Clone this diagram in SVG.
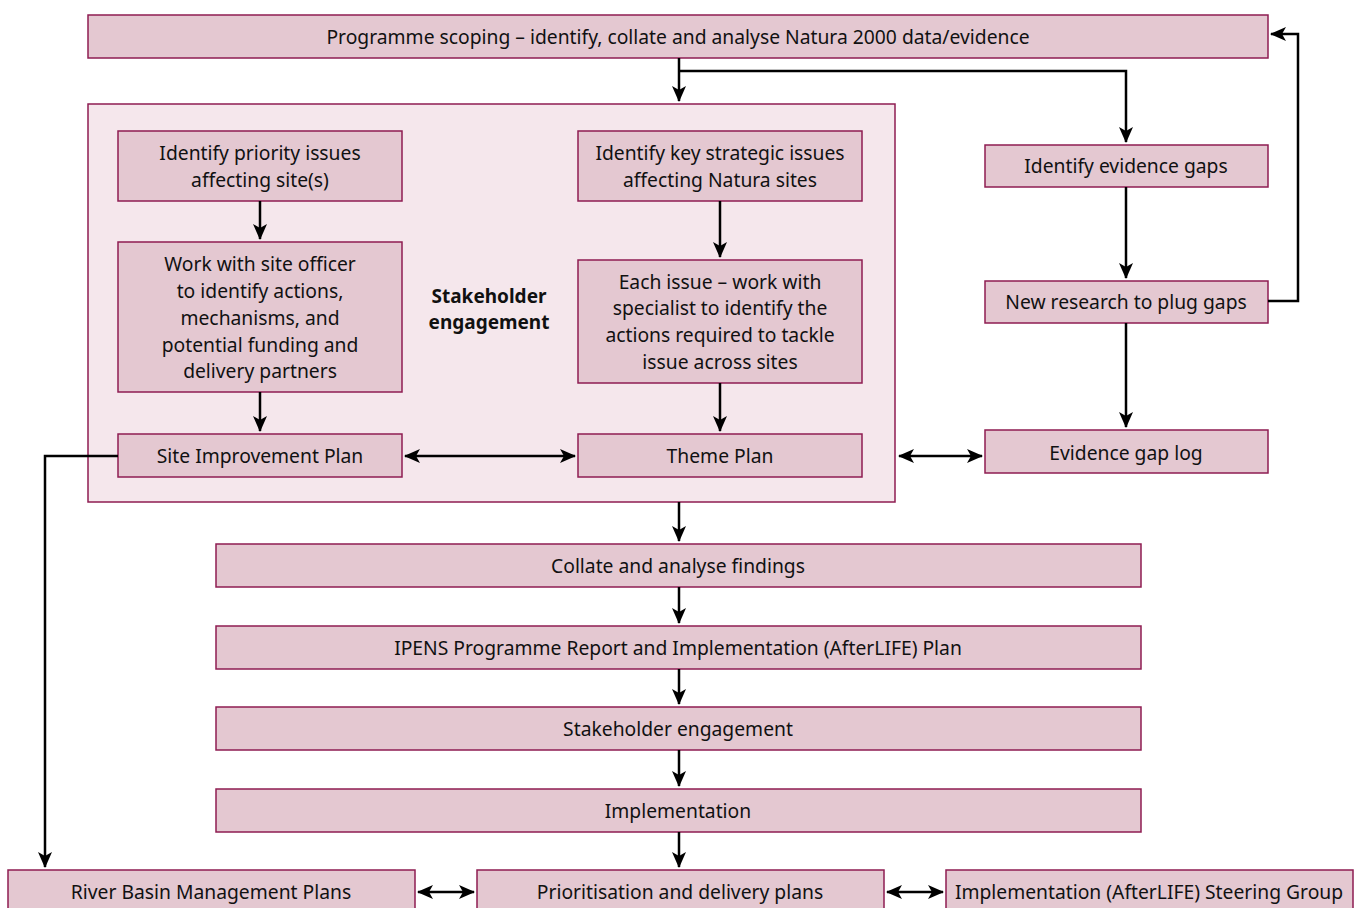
<svg xmlns="http://www.w3.org/2000/svg" width="1359" height="908" viewBox="0 0 1359 908">
<style>
.b{fill:#e4c8d1;stroke:#8e1d52;stroke-width:1.5}
.c{fill:#f5e7ec;stroke:#8e1d52;stroke-width:1.5}
text{font-family:"Noto Sans","Open Sans",sans-serif;font-size:19.3px;fill:#111;text-anchor:middle}
.bold{font-weight:bold;font-size:19px}
.l{fill:none;stroke:#000;stroke-width:2.5}
</style>
<defs>
<marker id="a" markerUnits="userSpaceOnUse" markerWidth="16" markerHeight="14" viewBox="0 0 16 14" refX="15" refY="7" orient="auto-start-reverse">
<path d="M0,0 L16,7 L0,14 L4,7 z" fill="#000"/>
</marker>
</defs>
<rect width="1359" height="908" fill="#fff"/>
<g id="container"><rect class="c" x="88" y="104" width="807" height="398"/>
<text class="bold" x="489" y="303">Stakeholder</text><text class="bold" x="489" y="329">engagement</text></g>
<g id="scoping"><rect class="b" x="88" y="15" width="1180" height="43"/><text x="678" y="44">Programme scoping – identify, collate and analyse Natura 2000 data/evidence</text></g>
<g id="priority"><rect class="b" x="118" y="131" width="284" height="70"/><text x="260" y="160">Identify priority issues</text><text x="260" y="187">affecting site(s)</text></g>
<g id="officer"><rect class="b" x="118" y="242" width="284" height="150"/><text x="260" y="271">Work with site officer</text><text x="260" y="298">to identify actions,</text><text x="260" y="325">mechanisms, and</text><text x="260" y="352">potential funding and</text><text x="260" y="378">delivery partners</text></g>
<g id="sip"><rect class="b" x="118" y="434" width="284" height="43"/><text x="260" y="463">Site Improvement Plan</text></g>
<g id="strategic"><rect class="b" x="578" y="131" width="284" height="70"/><text x="720" y="160">Identify key strategic issues</text><text x="720" y="187">affecting Natura sites</text></g>
<g id="issue"><rect class="b" x="578" y="260" width="284" height="123"/><text x="720" y="289">Each issue – work with</text><text x="720" y="315">specialist to identify the</text><text x="720" y="342">actions required to tackle</text><text x="720" y="369">issue across sites</text></g>
<g id="theme"><rect class="b" x="578" y="434" width="284" height="43"/><text x="720" y="463">Theme Plan</text></g>
<g id="gaps"><rect class="b" x="985" y="145" width="283" height="42"/><text x="1126" y="173">Identify evidence gaps</text></g>
<g id="research"><rect class="b" x="985" y="281" width="283" height="42"/><text x="1126" y="309">New research to plug gaps</text></g>
<g id="gaplog"><rect class="b" x="985" y="430" width="283" height="43"/><text x="1126" y="460">Evidence gap log</text></g>
<g id="collate"><rect class="b" x="216" y="544" width="925" height="43"/><text x="678" y="573">Collate and analyse findings</text></g>
<g id="ipens"><rect class="b" x="216" y="626" width="925" height="43"/><text x="678" y="655">IPENS Programme Report and Implementation (AfterLIFE) Plan</text></g>
<g id="stake"><rect class="b" x="216" y="707" width="925" height="43"/><text x="678" y="736">Stakeholder engagement</text></g>
<g id="impl"><rect class="b" x="216" y="789" width="925" height="43"/><text x="678" y="818">Implementation</text></g>
<g id="rbmp"><rect class="b" x="8" y="870" width="407" height="45"/><text x="211" y="899">River Basin Management Plans</text></g>
<g id="prior"><rect class="b" x="477" y="870" width="407" height="45"/><text x="680" y="899">Prioritisation and delivery plans</text></g>
<g id="steer"><rect class="b" x="946" y="870" width="407" height="45"/><text x="1149" y="899">Implementation (AfterLIFE) Steering Group</text></g>
<g id="connectors">
<path class="l" d="M679,58 V101" marker-end="url(#a)"/>
<path class="l" d="M679,71 H1126 V142" marker-end="url(#a)"/>
<path class="l" d="M1126,187 V278" marker-end="url(#a)"/>
<path class="l" d="M1268,301 H1298 V34 H1271" marker-end="url(#a)"/>
<path class="l" d="M1126,323 V427" marker-end="url(#a)"/>
<path class="l" d="M899,456 H982" marker-start="url(#a)" marker-end="url(#a)"/>
<path class="l" d="M405,456 H575" marker-start="url(#a)" marker-end="url(#a)"/>
<path class="l" d="M118,456 H45 V867" marker-end="url(#a)"/>
<path class="l" d="M260,201 V239" marker-end="url(#a)"/>
<path class="l" d="M260,392 V431" marker-end="url(#a)"/>
<path class="l" d="M720,201 V257" marker-end="url(#a)"/>
<path class="l" d="M720,383 V431" marker-end="url(#a)"/>
<path class="l" d="M679,502 V541" marker-end="url(#a)"/>
<path class="l" d="M679,587 V623" marker-end="url(#a)"/>
<path class="l" d="M679,669 V704" marker-end="url(#a)"/>
<path class="l" d="M679,750 V786" marker-end="url(#a)"/>
<path class="l" d="M679,832 V867" marker-end="url(#a)"/>
<path class="l" d="M418,892 H474" marker-start="url(#a)" marker-end="url(#a)"/>
<path class="l" d="M887,892 H943" marker-start="url(#a)" marker-end="url(#a)"/>
</g>
</svg>
